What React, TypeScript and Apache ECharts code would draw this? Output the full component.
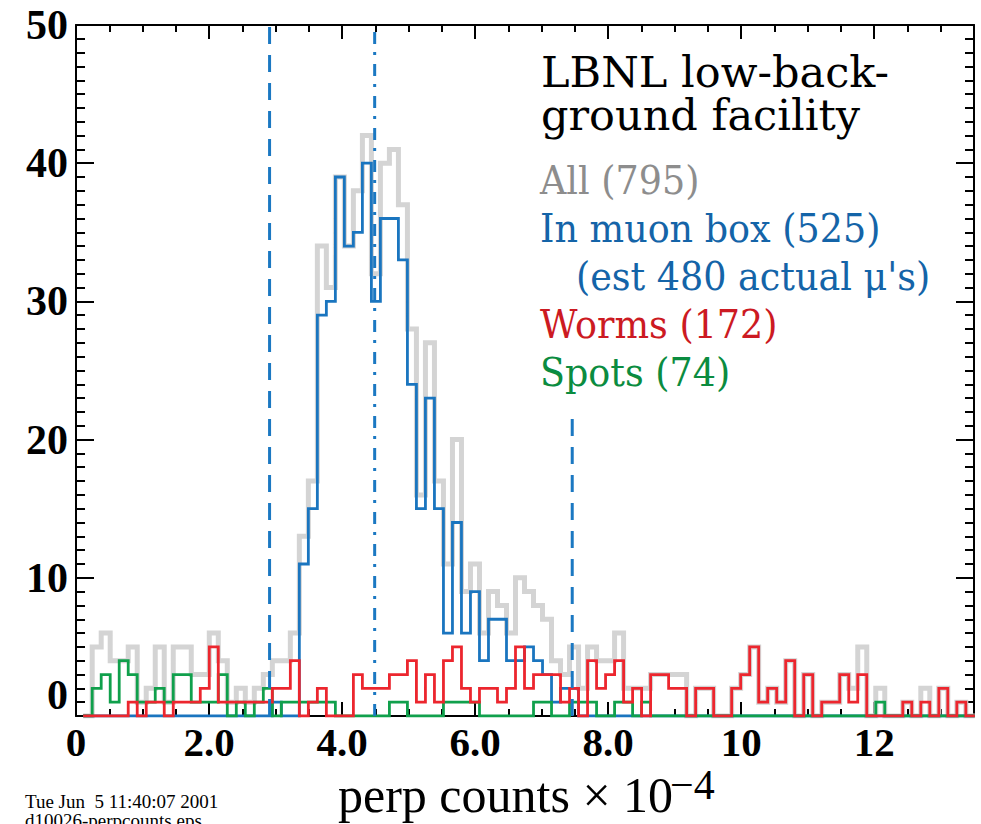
import React, { useEffect, useRef } from "react";
import * as echarts from "echarts";

// Histogram binning (perp counts, units of 1e-4)
const BIN_START = 0.108;
const BIN_WIDTH = 0.1354;

// Counts per bin, 99 bins each
const ALL_COUNTS = [
  0, 5, 6, 4, 4, 5, 1, 2, 5, 1,
  5, 5, 3, 3, 6, 4, 1, 2, 1, 2,
  3, 4, 4, 6, 13, 17, 34, 31, 39, 34,
  38, 42, 32, 40, 41, 37, 28, 16, 27, 17,
  11, 20, 9, 11, 6, 9, 8, 6, 10, 9,
  8, 7, 4, 3, 5, 2, 5, 4, 4, 6,
  2, 2, 2, 3, 3, 3, 3, 0, 2, 2,
  0, 0, 2, 3, 5, 1, 2, 1, 4, 0,
  3, 0, 1, 1, 3, 2, 5, 0, 2, 0,
  0, 1, 0, 2, 0, 2, 0, 1, 0,
];

const MUON_BOX_COUNTS = [
  0, 0, 0, 0, 0, 0, 0, 0, 0, 0,
  0, 0, 0, 0, 0, 0, 0, 0, 0, 0,
  0, 1, 0, 0, 11, 15, 29, 30, 39, 34,
  35, 40, 30, 36, 36, 33, 24, 15, 23, 15,
  6, 14, 6, 9, 4, 7, 7, 4, 4, 5,
  4, 3, 1, 2, 2, 0, 0, 0, 0, 0,
  0, 0, 0, 0, 0, 0, 0, 0, 0, 0,
  0, 0, 0, 0, 0, 0, 0, 0, 0, 0,
  0, 0, 0, 0, 0, 0, 0, 0, 0, 0,
  0, 0, 0, 0, 0, 0, 0, 0, 0,
];

const WORM_COUNTS = [
  0, 0, 0, 0, 0, 1, 0, 1, 1, 0,
  1, 1, 1, 2, 5, 1, 1, 1, 1, 1,
  1, 2, 2, 4, 0, 1, 2, 0, 0, 0,
  3, 2, 2, 2, 3, 3, 4, 1, 3, 1,
  4, 5, 2, 1, 2, 2, 1, 2, 5, 2,
  3, 3, 3, 1, 2, 0, 4, 2, 3, 4,
  1, 2, 0, 3, 3, 2, 2, 0, 2, 2,
  0, 0, 2, 3, 5, 1, 2, 1, 4, 0,
  3, 0, 1, 1, 3, 1, 3, 0, 0, 0,
  0, 1, 0, 1, 0, 2, 0, 1, 0,
];

const SPOT_COUNTS = [
  0, 2, 3, 1, 4, 3, 1, 1, 2, 1,
  3, 3, 1, 1, 1, 3, 0, 1, 0, 1,
  2, 0, 1, 1, 1, 1, 1, 1, 0, 0,
  0, 0, 0, 0, 1, 1, 0, 0, 0, 0,
  1, 1, 1, 1, 0, 0, 0, 0, 0, 0,
  1, 1, 0, 0, 1, 1, 1, 0, 0, 1,
  1, 0, 1, 0, 0, 0, 0, 0, 0, 0,
  0, 0, 0, 0, 0, 0, 0, 0, 0, 0,
  0, 0, 0, 0, 0, 0, 0, 0, 1, 0,
  0, 0, 0, 0, 0, 0, 0, 0, 0,
];

// Muon box cuts: lower edge, centre, upper edge, and how high each line is drawn
const BOX_CUTS = [2.91, 4.49, 7.46];
const BOX_CUT_TOPS = [50, 50, 22];

// Axes
const X_MIN = 0;
const X_MAX = 13.5;
const Y_MIN = 0;
const Y_MAX = 50;
const X_TICK_VALUES = [0, 2, 4, 6, 8, 10, 12];
const X_TICK_LABELS = ["0", "2.0", "4.0", "6.0", "8.0", "10", "12"];
const Y_TICK_VALUES = [0, 10, 20, 30, 40, 50];
const Y_TICK_LABELS = ["0", "10", "20", "30", "40", "50"];

// Legend lines
const TITLE_TEXT = "LBNL low-back-\nground facility";
const LEGEND_ITEMS = [
  { text: "All (795)", color: "#8d8d8d", indent: 0 },
  { text: "In muon box (525)", color: "#1464a8", indent: 0 },
  { text: "(est 480 actual \u03bc's)", color: "#1464a8", indent: 36 },
  { text: "Worms (172)", color: "#cc1a22", indent: 0 },
  { text: "Spots (74)", color: "#0b8c40", indent: 0 },
];

const AXIS_TITLE = "perp counts \u00d7 10";
const AXIS_EXPONENT = "\u22124";
const FOOTER_TEXT = "Tue Jun  5 11:40:07 2001\nd10026-perpcounts.eps";

const SERIF = "'Liberation Serif', 'Times New Roman', serif";
const WIDE_SERIF = "'DejaVu Serif', serif";

// Histogram as a stepped polyline: one point per bin edge
function stepData(counts: number[]): number[][] {
  const pts = counts.map((c, k) => [BIN_START + k * BIN_WIDTH, c]);
  pts.push([BIN_START + counts.length * BIN_WIDTH, counts[counts.length - 1]]);
  return pts;
}

function histSeries(name: string, counts: number[], color: string, width: number) {
  return {
    name,
    type: "line",
    step: "end",
    data: stepData(counts),
    symbol: "none",
    clip: true,
    lineStyle: { color, width, join: "miter", cap: "butt" },
    emphasis: { disabled: true },
    silent: true,
  };
}

const DASH_PATTERNS: number[][] = [
  [17, 11],
  [12, 9, 3, 8],
  [17, 11],
];

function cutSeries(i: number) {
  return {
    name: "cut" + i,
    type: "line",
    data: [
      [BOX_CUTS[i], Y_MIN],
      [BOX_CUTS[i], BOX_CUT_TOPS[i]],
    ],
    symbol: "none",
    lineStyle: { color: "#1b78c2", width: 3, type: DASH_PATTERNS[i], cap: "butt" },
    emphasis: { disabled: true },
    silent: true,
  };
}

function xAxisDef(position: string, interval: number, tickLen: number, withLine: boolean, withLabels: boolean) {
  return {
    type: "value",
    position,
    min: X_MIN,
    max: X_MAX,
    interval,
    axisLine: { show: withLine, onZero: false, lineStyle: { color: "#000", width: 2 } },
    axisTick: { show: true, inside: true, length: tickLen, lineStyle: { color: "#000", width: 2 } },
    axisLabel: {
      show: withLabels,
      margin: 5,
      color: "#000",
      fontFamily: SERIF,
      fontWeight: "bold",
      fontSize: 41,
      formatter: (v: number) => {
        const i = X_TICK_VALUES.indexOf(v);
        return i >= 0 ? X_TICK_LABELS[i] : "";
      },
    },
    splitLine: { show: false },
  };
}

function yAxisDef(position: string, interval: number, tickLen: number, withLine: boolean, withLabels: boolean) {
  return {
    type: "value",
    position,
    min: Y_MIN,
    max: Y_MAX,
    interval,
    axisLine: { show: withLine, onZero: false, lineStyle: { color: "#000", width: 2 } },
    axisTick: { show: true, inside: true, length: tickLen, lineStyle: { color: "#000", width: 2 } },
    axisLabel: {
      show: withLabels,
      margin: 8,
      color: "#000",
      fontFamily: SERIF,
      fontWeight: "bold",
      fontSize: 42,
      verticalAlignMinLabel: "bottom",
      formatter: (v: number) => {
        const i = Y_TICK_VALUES.indexOf(v);
        return i >= 0 ? Y_TICK_LABELS[i] : "";
      },
    },
    splitLine: { show: false },
  };
}

function textEl(
  text: string,
  x: number,
  y: number,
  font: string,
  size: number,
  color: string,
  scaleY = 1,
  vAlign = "middle",
  lineHeight?: number
) {
  const style: any = {
    text,
    fill: color,
    fontFamily: font,
    fontSize: size,
    fontWeight: "normal",
    textAlign: "left",
    align: "left",
    textVerticalAlign: vAlign,
    verticalAlign: vAlign,
  };
  if (lineHeight) style.lineHeight = lineHeight;
  return { type: "text", x, y, scaleY, silent: true, style };
}

function buildOption() {
  const graphics: any[] = [];
  // title block, two lines 43px apart, first baseline at y=87
  const titleSize = 43;
  const titleLead = 43;
  graphics.push(
    textEl(TITLE_TEXT, 541, 87 - titleLead / 2 - 0.346 * titleSize, WIDE_SERIF, titleSize, "#000", 1, "top", titleLead)
  );
  // legend block
  const legSize = 36.5;
  const legScale = 1.06;
  LEGEND_ITEMS.forEach((item, i) => {
    const baseline = 194 + i * 48;
    graphics.push(
      textEl(item.text, 540 + item.indent, baseline - 0.346 * legSize * legScale, WIDE_SERIF, legSize, item.color, legScale)
    );
  });
  // axis title with exponent
  const axisSize = 50;
  graphics.push(textEl(AXIS_TITLE, 338, 812 - 0.3375 * axisSize, SERIF, axisSize, "#000"));
  graphics.push(textEl(AXIS_EXPONENT, 670, 799 - 0.3375 * 42, SERIF, 42, "#000"));
  // footer stamp, first baseline at y=808
  const footSize = 19;
  const footLead = 19;
  graphics.push(
    textEl(FOOTER_TEXT, 25, 808 - footLead / 2 - 0.3375 * footSize, SERIF, footSize, "#000", 1, "top", footLead)
  );

  return {
    animation: false,
    backgroundColor: "#fff",
    grid: { left: 76, top: 25, width: 898, height: 691, containLabel: false },
    xAxis: [
      xAxisDef("bottom", 0.5, 7, true, false),
      xAxisDef("bottom", 2, 14, false, true),
      xAxisDef("top", 0.5, 7, true, false),
      xAxisDef("top", 2, 14, false, false),
    ],
    yAxis: [
      yAxisDef("left", 1, 9, true, false),
      yAxisDef("left", 10, 18, false, true),
      yAxisDef("right", 1, 9, true, false),
      yAxisDef("right", 10, 18, false, false),
    ],
    series: [
      histSeries("All", ALL_COUNTS, "#d4d4d4", 5),
      histSeries("In muon box", MUON_BOX_COUNTS, "#1a75bf", 2.8),
      histSeries("Spots", SPOT_COUNTS, "#10a04c", 2.8),
      histSeries("Worms", WORM_COUNTS, "#ec262e", 2.8),
      cutSeries(0),
      cutSeries(1),
      cutSeries(2),
    ],
    graphic: graphics,
  };
}

export default function App() {
  const ref = useRef<HTMLDivElement>(null);
  useEffect(() => {
    if (!ref.current) return;
    const chart = echarts.init(ref.current, undefined, { renderer: "svg" });
    chart.setOption(buildOption() as any);
    return () => chart.dispose();
  }, []);
  return (
    <div
      ref={ref}
      style={{ position: "absolute", left: 0, top: 0, width: 981, height: 824, background: "#fff" }}
    />
  );
}
